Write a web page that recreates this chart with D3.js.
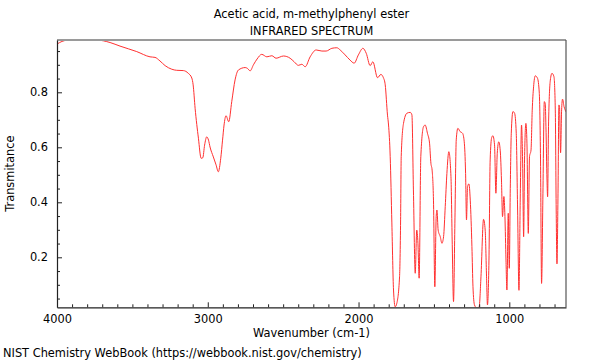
<!DOCTYPE html>
<html>
<head>
<meta charset="utf-8">
<script src="https://cdn.jsdelivr.net/npm/d3@7"></script>
<style>
  html, body { margin: 0; padding: 0; background: #fff; }
  svg { display: block; font-family: "DejaVu Sans", sans-serif; }
</style>
</head>
<body>
<svg id="chart" width="600" height="360"></svg>
<script>
// ---- data ----
const wavenumbers = [3998,3967,3925,3737,3648,3582,3471,3383,3350,3317,3283,3239,3206,3162,3129,3106,3097,3084,3062,3044,3033,3021,3007,2995,2985,2963,2945,2930,2914,2902,2892,2879,2861,2841,2819,2797,2752,2737,2719,2697,2673,2642,2608,2575,2547,2498,2454,2427,2399,2376,2354,2321,2281,2243,2215,2177,2144,2122,2089,2056,2029,2001,1971,1949,1923,1905,1874,1852,1835,1823,1808,1801,1790,1779,1768,1757,1746,1728,1721,1717,1702,1679,1657,1646,1636,1624,1614,1606,1598,1587,1569,1558,1543,1529,1520,1512,1503,1494,1485,1480,1472,1458,1447,1436,1425,1414,1401,1387,1379,1370,1361,1352,1341,1326,1310,1299,1290,1284,1277,1268,1259,1248,1241,1231,1215,1200,1188,1171,1160,1151,1145,1135,1127,1117,1109,1098,1089,1080,1070,1060,1052,1045,1036,1029,1022,1016,1007,1000,994,987,976,965,954,945,936,927,919,912,905,899,890,883,874,866,856,848,839,828,813,801,793,786,777,768,762,757,750,746,740,728,717,704,695,689,684,677,671,667,660,653,647,637,624];
const transmittance = [0.976,0.985,0.990,0.990,0.981,0.968,0.948,0.929,0.927,0.914,0.897,0.884,0.880,0.879,0.869,0.852,0.827,0.742,0.633,0.560,0.562,0.608,0.638,0.626,0.601,0.565,0.536,0.511,0.560,0.626,0.681,0.715,0.693,0.766,0.845,0.881,0.890,0.887,0.878,0.900,0.921,0.938,0.929,0.933,0.924,0.932,0.924,0.911,0.898,0.902,0.893,0.929,0.954,0.950,0.950,0.960,0.962,0.954,0.936,0.917,0.906,0.936,0.960,0.942,0.897,0.911,0.853,0.865,0.853,0.827,0.717,0.681,0.566,0.325,0.081,0.020,0.033,0.129,0.336,0.566,0.686,0.724,0.727,0.718,0.445,0.142,0.299,0.251,0.124,0.566,0.675,0.681,0.651,0.615,0.542,0.517,0.408,0.093,0.348,0.372,0.299,0.275,0.251,0.275,0.384,0.505,0.584,0.493,0.263,0.039,0.324,0.627,0.669,0.657,0.651,0.620,0.505,0.336,0.457,0.467,0.408,0.239,0.093,0.027,0.015,0.020,0.129,0.338,0.299,0.129,0.027,0.190,0.554,0.635,0.642,0.609,0.433,0.578,0.620,0.587,0.481,0.348,0.421,0.348,0.190,0.081,0.360,0.160,0.433,0.651,0.730,0.724,0.651,0.372,0.080,0.433,0.681,0.554,0.275,0.554,0.687,0.615,0.287,0.566,0.590,0.735,0.820,0.860,0.851,0.796,0.554,0.105,0.433,0.766,0.760,0.675,0.481,0.420,0.675,0.844,0.869,0.857,0.736,0.372,0.176,0.433,0.754,0.748,0.580,0.736,0.775,0.748,0.729];
const xTickLabels = [4000, 3000, 2000, 1000];
const yTickLabels = [0.2, 0.4, 0.6, 0.8];
const titleLines = ["Acetic acid, m-methylphenyl ester", "INFRARED SPECTRUM"];
const xAxisTitle = "Wavenumber (cm-1)";
const yAxisTitle = "Transmitance";
const footer = "NIST Chemistry WebBook (https://webbook.nist.gov/chemistry)";

// ---- layout ----
const L = 57, R = 566, T = 40, B = 307.3;
const svg = d3.select("#chart");

const x = d3.scaleLinear().domain([4000, 624]).range([L, R]);
const y = d3.scaleLinear().domain([0.01818, 0.9902]).range([B, T]);

const points = wavenumbers.map((w, i) => ({ w, t: transmittance[i] }));

// clip
svg.append("clipPath").attr("id", "clip")
  .append("rect").attr("x", L).attr("y", T).attr("width", R - L).attr("height", B - T);

// spectrum line
const line = d3.line().x(d => x(d.w)).y(d => y(d.t)).curve(d3.curveMonotoneX);
svg.append("path")
  .datum(points)
  .attr("clip-path", "url(#clip)")
  .attr("fill", "none")
  .attr("stroke", "#ff3030")
  .attr("stroke-width", 1)
  .attr("stroke-linejoin", "round")
  .attr("d", line);

// frame: top (gray) and right (dark gray)
svg.append("line").attr("x1", L).attr("x2", R).attr("y1", T).attr("y2", T)
  .attr("stroke", "#9a9a9a").attr("stroke-width", 2);
svg.append("line").attr("x1", R).attr("x2", R).attr("y1", T).attr("y2", B)
  .attr("stroke", "#555").attr("stroke-width", 1.2);

// minor ticks
const xMinor = d3.range(4000, 623, -100).filter(v => !xTickLabels.includes(v));
const yMinor = d3.range(0.05, 0.99, 0.05).map(v => +v.toFixed(2)).filter(v => !yTickLabels.includes(v));

const xAxisMinor = d3.axisBottom(x).tickValues(xMinor).tickSize(-3).tickFormat("");
const yAxisMinor = d3.axisLeft(y).tickValues(yMinor).tickSize(-3).tickFormat("");
svg.append("g").attr("transform", `translate(0,${B})`).call(xAxisMinor)
  .call(g => g.select(".domain").remove())
  .call(g => g.selectAll("line").attr("stroke", "#222"));
svg.append("g").attr("transform", `translate(${L},0)`).call(yAxisMinor)
  .call(g => g.select(".domain").remove())
  .call(g => g.selectAll("line").attr("stroke", "#222"));

// major axes
const xAxis = d3.axisBottom(x).tickValues(xTickLabels).tickSizeInner(-5).tickSizeOuter(0).tickPadding(7.5).tickFormat(d3.format("d"));
const yAxis = d3.axisLeft(y).tickValues(yTickLabels).tickSizeInner(-5).tickSizeOuter(0).tickPadding(9).tickFormat(d3.format(".1f"));

svg.append("g").attr("transform", `translate(0,${B})`).call(xAxis)
  .call(g => g.select(".domain").attr("stroke", "#222").attr("stroke-width", 1.2))
  .call(g => g.selectAll("line").attr("stroke", "#222"))
  .call(g => g.selectAll("text").attr("font-size", 11.4).attr("fill", "#000")
    .attr("font-family", "DejaVu Sans").attr("dy", "0.71em"));

svg.append("g").attr("transform", `translate(${L},0)`).call(yAxis)
  .call(g => g.select(".domain").attr("stroke", "#222").attr("stroke-width", 1.2))
  .call(g => g.selectAll("line").attr("stroke", "#222"))
  .call(g => g.selectAll("text").attr("font-size", 11.4).attr("fill", "#000")
    .attr("font-family", "DejaVu Sans"));

// titles
svg.selectAll("text.title").data(titleLines).enter().append("text")
  .attr("class", "title")
  .attr("x", (L + R) / 2)
  .attr("y", (d, i) => 17.5 + i * 17)
  .attr("text-anchor", "middle")
  .attr("font-size", 11.4)
  .attr("fill", "#000")
  .text(d => d);

svg.append("text")
  .attr("x", (L + R) / 2).attr("y", 337)
  .attr("text-anchor", "middle").attr("font-size", 11.4).attr("fill", "#000")
  .text(xAxisTitle);

svg.append("text")
  .attr("transform", `translate(14,${(T + B) / 2}) rotate(-90)`)
  .attr("text-anchor", "middle").attr("font-size", 11.4).attr("fill", "#000")
  .text(yAxisTitle);

svg.append("text")
  .attr("x", 3).attr("y", 357.3)
  .attr("font-size", 11.4).attr("fill", "#000")
  .text(footer);
</script>
</body>
</html>
